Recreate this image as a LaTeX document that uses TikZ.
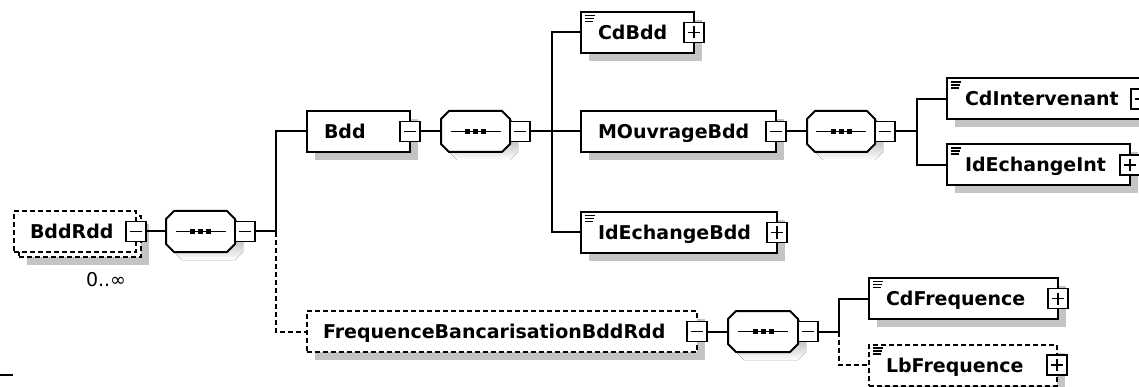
\documentclass[tikz,border=0pt]{standalone}
\usepackage{fontspec}
\setmainfont{DejaVu Sans}
\usetikzlibrary{shadows}
\definecolor{shade}{RGB}{196,196,196}
\newcommand\octpath[3]{([xshift=#2+8pt,yshift=#3]#1.north west) -- ([xshift=#2-8pt,yshift=#3]#1.north east) -- ([xshift=#2,yshift=#3-8pt]#1.north east) -- ([xshift=#2,yshift=#3+8pt]#1.south east) -- ([xshift=#2-8pt,yshift=#3]#1.south east) -- ([xshift=#2+8pt,yshift=#3]#1.south west) -- ([xshift=#2,yshift=#3+8pt]#1.south west) -- ([xshift=#2,yshift=#3-8pt]#1.north west) -- cycle}
\newcommand\seqoct[1]{%
  \fill[shade] \octpath{#1}{8pt}{-8pt};
  \draw[lw, fill=white] \octpath{#1}{0pt}{0pt};
  \draw[line width=1.4pt] ([xshift=-25pt]#1.center) -- ([xshift=25pt]#1.center);
  \foreach \d in {-8,0,8}{\fill ([xshift=\d pt]#1.center) ++(-2.5,-2.5) rectangle ++(5,5);}
}
\begin{document}
\begin{tikzpicture}[x=1pt,y=-1pt,
  every node/.style={inner sep=0pt, outer sep=0pt},
  lw/.style={line width=2pt},
  dashline/.style={dash pattern=on 5pt off 3pt},
  boxshadow/.style={drop shadow={shadow xshift=8pt, shadow yshift=-8pt, opacity=1, fill=shade}},
  elemns/.style={rectangle, draw, lw, fill=white, minimum height=41pt, anchor=west},
  elem/.style={elemns, boxshadow},
  optelem/.style={elem, dashline},
  optfront/.style={elemns, dashline},
  seq/.style={rectangle, draw=none, minimum height=41pt, anchor=west},
  btn/.style={rectangle, draw, line width=1.6pt, fill=white, minimum size=20pt},
  minus/.style={btn, path picture={\draw[line width=1.3pt] ([xshift=-6pt]path picture bounding box.center) -- ([xshift=6pt]path picture bounding box.center);}},
  plus/.style={btn, path picture={\draw[line width=1.3pt] ([xshift=-6pt]path picture bounding box.center) -- ([xshift=6pt]path picture bounding box.center) ([yshift=-6pt]path picture bounding box.center) -- ([yshift=6pt]path picture bounding box.center);}},
  lbl/.style={font=\fontsize{19}{19}\selectfont\bfseries, anchor=base west},
  occ/.style={font=\fontsize{19}{19}\selectfont},
  conn/.style={lw},
  optconn/.style={lw, dashline},
  icon/.style={line width=1.2pt}
]
\path[use as bounding box] (0,0) rectangle (1139,387);
\clip (0,0) rectangle (1139,387);

% root element BddRdd (repeated, optional)
\node[optelem, minimum width=122pt] (bddrddB) at (19,236.5) {};
\node[optfront, minimum width=122pt] (bddrdd) at (14,231.5) {};
\node[lbl] (bddrddT) at (30,238.5) {BddRdd};
\node[minus] (bddrddM) at (bddrdd.east) {};
\node[occ] (bddrddO) at (106,280) {0..∞};

% root sequence
\node[seq, minimum width=69pt] (s0) at (166,231.5) {};
\seqoct{s0}
\node[minus] (s0M) at (245,231.5) {};
\coordinate (v0) at (276,231.5);

% Bdd
\node[elem, minimum width=103pt] (bdd) at (307,131.5) {};
\node[lbl] (bddT) at (324,138.5) {Bdd};
\node[minus] (bddM) at (bdd.east) {};
\node[seq, minimum width=69pt] (s1) at (441,131.5) {};
\seqoct{s1}
\node[minus] (s1M) at (520,131.5) {};
\coordinate (v1) at (552,131.5);

\node[elem, minimum width=113pt] (cdbdd) at (581,32.5) {};
\node[lbl] (cdbddT) at (598,39.5) {CdBdd};
\node[plus] (cdbddP) at (cdbdd.east) {};

\node[elem, minimum width=195pt] (mouv) at (581,131.5) {};
\node[lbl] (mouvT) at (598,138.5) {MOuvrageBdd};
\node[minus] (mouvM) at (mouv.east) {};
\node[seq, minimum width=68pt] (s2) at (807,131.5) {};
\seqoct{s2}
\node[minus] (s2M) at (885,131.5) {};
\coordinate (v2) at (917,131.5);

\node[elem, minimum width=194pt] (cdint) at (947,99) {};
\node[lbl] (cdintT) at (965,106) {CdIntervenant};
\node[plus] (cdintP) at (cdint.east) {};

\node[elem, minimum width=183pt] (idint) at (947,165) {};
\node[lbl] (idintT) at (965,172) {IdEchangeInt};
\node[plus] (idintP) at (idint.east) {};

\node[elem, minimum width=196pt] (idbdd) at (581,232.5) {};
\node[lbl] (idbddT) at (598,239.5) {IdEchangeBdd};
\node[plus] (idbddP) at (idbdd.east) {};

% FrequenceBancarisationBddRdd (optional)
\node[optelem, minimum width=390pt] (freq) at (307,331.5) {};
\node[lbl] (freqT) at (323,338.5) {FrequenceBancarisationBddRdd};
\node[minus] (freqM) at (freq.east) {};
\node[seq, minimum width=70pt] (s3) at (728,331.5) {};
\seqoct{s3}
\node[minus] (s3M) at (808,331.5) {};
\coordinate (v3) at (839,331.5);

\node[elem, minimum width=189pt] (cdfreq) at (869,298.5) {};
\node[lbl] (cdfreqT) at (886,305.5) {CdFrequence};
\node[plus] (cdfreqP) at (cdfreq.east) {};

\node[optelem, minimum width=188pt] (lbfreq) at (869,365) {};
\node[lbl] (lbfreqT) at (886,372) {LbFrequence};
\node[plus] (lbfreqP) at (lbfreq.east) {};

% simple-content icons
\foreach \n in {cdbdd,cdint,idint,idbdd,cdfreq,lbfreq}{
  \draw[icon] ([xshift=4pt,yshift=-3.5pt]\n.north west) -- ++(10,0);
  \draw[icon] ([xshift=4pt,yshift=-6.5pt]\n.north west) -- ++(9,0);
  \draw[icon] ([xshift=4pt,yshift=-9.5pt]\n.north west) -- ++(8,0);
}

% connectors
\draw[conn] (bddrddM.east) -- (s0.west);
\draw[conn] (s0M.east) -- (v0);
\draw[conn] (v0) |- (bdd.west);
\draw[optconn] (v0) |- (freq.west);

\draw[conn] (bddM.east) -- (s1.west);
\draw[conn] (s1M.east) -- (v1);
\draw[conn] (v1) |- (cdbdd.west);
\draw[conn] (v1) -- (mouv.west);
\draw[conn] (v1) |- (idbdd.west);

\draw[conn] (mouvM.east) -- (s2.west);
\draw[conn] (s2M.east) -- (v2);
\draw[conn] (v2) |- (cdint.west);
\draw[conn] (v2) |- (idint.west);

\draw[conn] (freqM.east) -- (s3.west);
\draw[conn] (s3M.east) -- (v3);
\draw[conn] (v3) |- (cdfreq.west);
\draw[optconn] (v3) |- (lbfreq.west);

% stray mark bottom-left
\coordinate (m1) at (0,375);
\coordinate (m2) at (13,375);
\draw[line width=1.3pt] (m1) -- (m2);
\end{tikzpicture}
\end{document}
